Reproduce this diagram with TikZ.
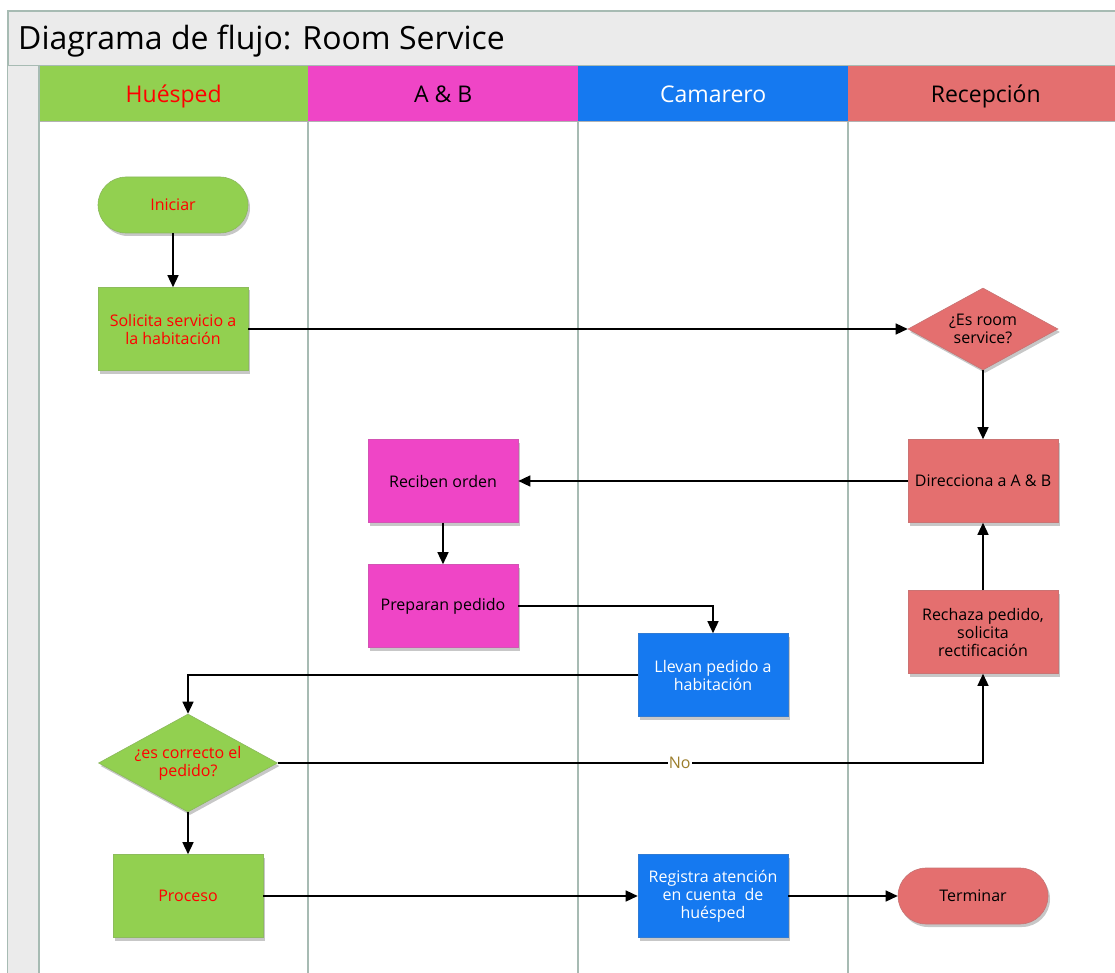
\documentclass[tikz,border=0pt]{standalone}
\usepackage{fontspec}
\setmainfont{Open Sans}
\newfontfamily\headfont{Open Sans}
\usetikzlibrary{arrows.meta,shapes.geometric,shadows}
\definecolor{cgreen}{HTML}{92D050}
\definecolor{cmag}{HTML}{EF45C6}
\definecolor{cblue}{HTML}{1579F0}
\definecolor{cred}{HTML}{E46F6F}
\definecolor{cframe}{HTML}{EBEBEB}
\definecolor{cline}{HTML}{A7BBB3}
\definecolor{cno}{HTML}{9C7E2C}
\definecolor{ctxtred}{HTML}{FF0000}
\tikzset{
  shad/.style={drop shadow={shadow xshift=2pt,shadow yshift=-3pt,opacity=0.22,fill=black}},
  base/.style={shad,font=\fontsize{16}{18}\selectfont,align=center,inner sep=2pt},
  proc/.style={base,rectangle,minimum width=150,minimum height=83,fill=#1,draw=#1!75!gray,line width=0.6pt},
  term/.style={base,rectangle,rounded corners=28,minimum width=150,minimum height=56,fill=#1,draw=#1!70!gray,line width=0.6pt},
  dec/.style={base,diamond,aspect=1.83,inner sep=0pt,fill=#1,draw=#1!70!gray,line width=0.6pt},
  arr/.style={-{Triangle[length=12pt,width=11pt]},line width=1.4pt,black},
  lane/.style={draw=cline,line width=1.2pt},
  hdr/.style={rectangle,anchor=north west,minimum height=56,inner sep=0pt,text height=17.5pt,text depth=1.5pt,font=\headfont\fontsize{23}{26}\selectfont},
}
\begin{document}
\begin{tikzpicture}[x=1pt,y=-1pt]
\useasboundingbox (0,0) rectangle (1115,973);
% frame
\fill[cframe] (8,11) rectangle (1120,66);
\draw[cline,line width=1.2pt] (1120,11) -- (8,11) -- (8,980);
\draw[cline,line width=1pt] (8,66) -- (1120,66);
\fill[cframe] (8,66) rectangle (39,980);
\node[anchor=base west,inner sep=0pt,font=\headfont\fontsize{32}{34}\selectfont] (title) at (18,50) {Diagrama de flujo: Room Service};
% headers
\node[hdr,fill=cgreen,minimum width=269,text=ctxtred] (h1) at (39,66) {Huésped};
\node[hdr,fill=cmag,minimum width=270] (h2) at (308,66) {A \& B};
\node[hdr,fill=cblue,minimum width=270,text=white] (h3) at (578,66) {Camarero};
\node[hdr,fill=cred,minimum width=275] (h4) at (848,66) {Recepción};
\draw[gray!60,line width=1pt] (39,122) -- (1120,122);
\draw[lane] (39,66) -- (39,980);
\draw[lane] (308,122) -- (308,980);
\draw[lane] (578,122) -- (578,980);
\draw[lane] (848,122) -- (848,980);
% nodes
\node[term=cgreen,text=ctxtred] (ini) at (173,205) {Iniciar};
\node[proc=cgreen,text=ctxtred] (sol) at (173,329) {Solicita servicio a\\la habitación};
\node[dec=cred,minimum width=150,minimum height=82] (esr) at (983,329) {¿Es room\\service?};
\node[proc=cred] (dir) at (983,481) {Direcciona a A \& B};
\node[proc=cmag] (rec) at (443,481) {Reciben orden};
\node[proc=cmag] (prep) at (443,606) {Preparan pedido};
\node[proc=cblue,text=white] (llev) at (713,675) {Llevan pedido a\\habitación};
\node[proc=cred] (rech) at (983,632) {Rechaza pedido,\\solicita\\rectificación};
\node[dec=cgreen,text=ctxtred,minimum width=179,minimum height=98] (cor) at (188,763) {¿es correcto el\\pedido?};
\node[proc=cgreen,text=ctxtred] (proc) at (188,896) {Proceso};
\node[proc=cblue,text=white] (reg) at (713,896) {Registra atención\\en cuenta\ \ de\\huésped};
\node[term=cred] (term) at (973,896) {Terminar};
% edges
\draw[arr] (ini) -- (sol);
\draw[arr] (sol) -- (esr);
\draw[arr] (esr) -- (dir);
\draw[arr] (dir) -- (rec);
\draw[arr] (rec) -- (prep);
\draw[arr] (prep.east) -| (llev.north);
\draw[arr] (llev.west) -| (cor.north);
\draw[arr] (cor.east) -| node[pos=0.285,fill=white,inner sep=1pt,text=cno,font=\fontsize{16}{18}\selectfont] (no) {No} (rech.south);
\draw[arr] (rech) -- (dir);
\draw[arr] (cor) -- (proc);
\draw[arr] (proc) -- (reg);
\draw[arr] (reg) -- (term);
\end{tikzpicture}
\end{document}
